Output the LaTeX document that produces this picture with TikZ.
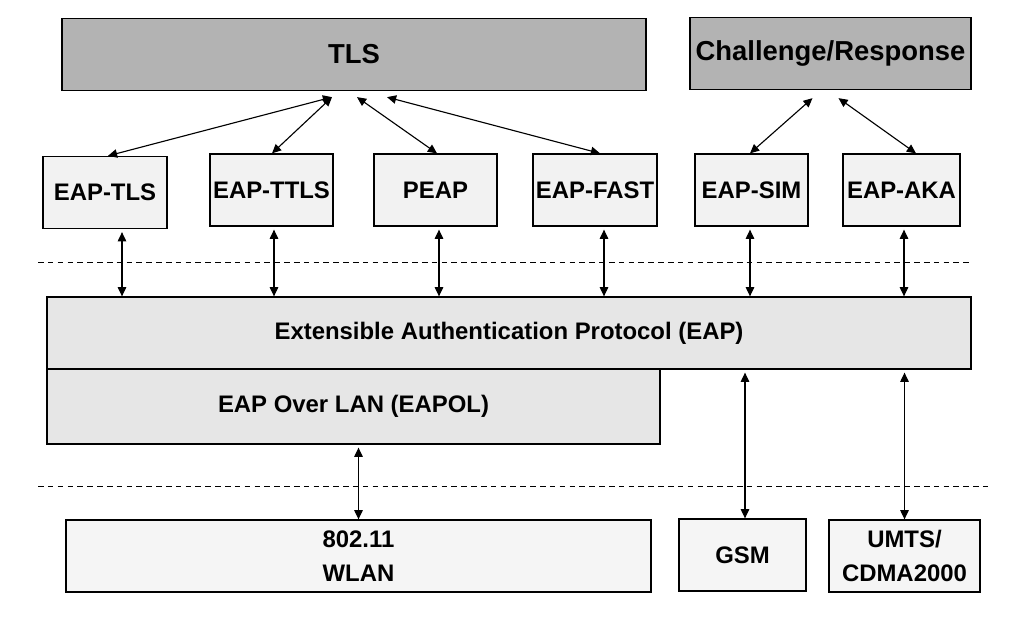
\documentclass[tikz,border=0pt]{standalone}
\usepackage{fontspec}
\setmainfont{Liberation Sans}
\usepackage{tikz}
\usetikzlibrary{arrows.meta, positioning, calc}
\definecolor{eapDark}{HTML}{B3B3B3}
\definecolor{eapLight}{HTML}{F2F2F2}
\definecolor{eapMid}{HTML}{E6E6E6}
\definecolor{eapPale}{HTML}{F5F5F5}

\begin{document}
\begin{tikzpicture}[
  x=0.025cm, y=-0.025cm,
  topbox/.style={
    rectangle, draw=black, fill=eapDark, line width=0.9pt,
    minimum height=1.8cm, inner sep=0pt,
    font=\fontsize{19.5}{23}\selectfont\bfseries,
  },
  methodbox/.style={
    rectangle, draw=black, fill=eapLight, line width=0.9pt,
    minimum height=1.8cm, inner sep=0pt,
    font=\fontsize{17}{20}\selectfont\bfseries,
  },
  layerbox/.style={
    rectangle, draw=black, fill=eapMid, line width=0.9pt,
    minimum height=1.8cm, inner sep=0pt,
    font=\fontsize{17}{20}\selectfont\bfseries,
  },
  linkbox/.style={
    rectangle, draw=black, fill=eapPale, line width=0.9pt,
    minimum height=1.8cm, inner sep=0pt, align=center,
    font=\fontsize{17}{24}\selectfont\bfseries,
  },
  link/.style={{Triangle[length=6.5pt,width=6pt]}-{Triangle[length=6.5pt,width=6pt]}, line width=0.8pt},
  divider/.style={line width=0.7pt, dash pattern=on 4pt off 3pt},
]
\useasboundingbox (0,0) rectangle (1020,622);

% Upper protocols
\node[topbox, minimum width=14.6cm] (tls) at (354,54.5) {TLS};
\node[topbox, minimum width=7.025cm] (chresp) at (830.5,53.5) {Challenge/Response};

% EAP methods
\node[methodbox, minimum width=3.1cm] (eaptls) at (105,192.5) {EAP-TLS};
\node[methodbox, minimum width=3.075cm] (eapttls) at (271.5,190) {EAP-TTLS};
\node[methodbox, minimum width=3.075cm] (peap) at (435.5,190) {PEAP};
\node[methodbox, minimum width=3.1cm] (eapfast) at (595,190) {EAP-FAST};
\node[methodbox, minimum width=2.825cm] (eapsim) at (751.5,190) {EAP-SIM};
\node[methodbox, minimum width=2.925cm] (eapaka) at (901.5,190) {EAP-AKA};

% Framework layers
\node[layerbox, minimum width=23.1cm] (eap) at (509,333) {Extensible Authentication Protocol (EAP)};
\node[layerbox, minimum width=15.325cm, minimum height=1.875cm] (eapol) at (353.5,406.5) {EAP Over LAN (EAPOL)};

% Link layers
\node[linkbox, minimum width=14.625cm] (wlan) at (358.5,556) {802.11\\WLAN};
\node[linkbox, minimum width=3.175cm] (gsm) at (742.5,555) {GSM};
\node[linkbox, minimum width=3.775cm] (umts) at (904.5,556) {UMTS/\\CDMA2000};

% Dividers
\draw[divider] (38,262) -- (970,262);
\draw[divider] (38,486) -- (988,486);

% Methods to upper protocols
\draw[link] ([xshift=3*0.025cm]eaptls.north) -- ($(tls.south)+(-22,6)$);
\draw[link] ([xshift=0.5*0.025cm]eapttls.north) -- ($(tls.south)+(-22,6)$);
\draw[link] ([xshift=1.5*0.025cm]peap.north) -- ($(tls.south)+(3,6)$);
\draw[link] ([xshift=5*0.025cm]eapfast.north) -- ($(tls.south)+(33,6)$);
\draw[link] ([xshift=-1.5*0.025cm]eapsim.north) -- ($(chresp.south)+(-18,8)$);
\draw[link] ([xshift=14.5*0.025cm]eapaka.north) -- ($(chresp.south)+(8,8)$);

% Methods to EAP
\foreach \m/\dx in {eaptls/17, eapttls/2.5, peap/3.5, eapfast/9, eapsim/-1.5, eapaka/2.5} {
  \coordinate (\m-foot) at ($(\m.south)+(\dx,3)$);
  \draw[link] (\m-foot) -- (\m-foot |- eap.north);
}

% Layers to links
\draw[link] ($(eapol.south -| wlan.north)+(0,3)$) -- (wlan.north);
\draw[link] ($(eap.south -| gsm.north)+(2.5,3)$) -- ($(gsm.north)+(2.5,0)$);
\draw[link] ($(eap.south -| umts.north)+(0,3)$) -- (umts.north);

\end{tikzpicture}
\end{document}
